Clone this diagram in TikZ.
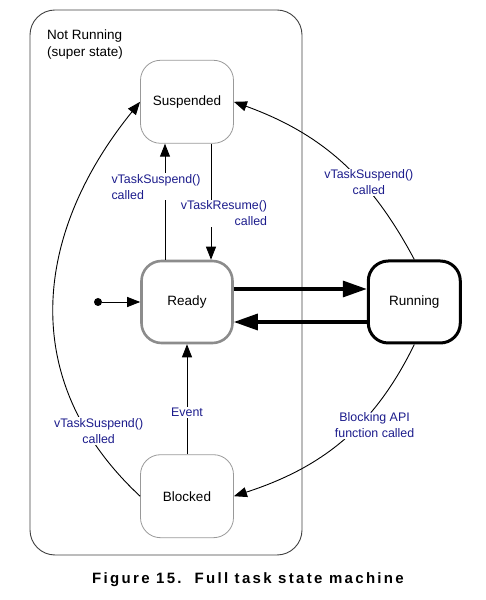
\documentclass[tikz,border=0pt]{standalone}
\usepackage{fontspec}
\setmainfont{Liberation Sans}
\usetikzlibrary{positioning,arrows.meta}
\definecolor{labelblue}{RGB}{28,28,140}
\begin{document}
\begin{tikzpicture}[x=1pt, y=1pt, node distance={117pt}, thin,
    main/.style = {draw=gray!80, line width=0.8pt, rounded corners=20pt, minimum width=93pt, minimum height=83pt, font=\fontsize{13.5}{16}\selectfont},
    lbl/.style = {fill=white, inner sep=1pt, text=labelblue, font=\fontsize{12.4}{16}\selectfont},
    tr/.style = {-{Triangle[length=13pt, width=10pt]}, line width=0.9pt},
    big/.style = {-{Triangle[length=24pt, width=16pt]}, line width=3.3pt}]
    \useasboundingbox (0,0) rectangle (486,600);
    \draw[rounded corners=25pt, line width=0.9pt, black!75] (30,45) rectangle (302,590);
    \node[align=left, anchor=north west, inner sep=0pt, font=\fontsize{13.5}{17}\selectfont] (0) at (47,570) {Not Running\\(super state)};

    \node[main, draw=gray!90, line width=2.6pt, minimum width=91pt, minimum height=82pt] (2) at (187,298) {Ready};
    \node[main] (1) [above=116pt of 2] {Suspended};
    \node[main] (4) [below=110pt of 2] {Blocked};
    \node[main, draw=black, line width=3pt, minimum width=92pt, minimum height=82pt] (3) [right=133pt of 2] {Running};
    \node[circle, fill, inner sep=0pt, minimum size=8pt] (5) at (98,298) {};

    \draw[tr] (5) -- (2);
    \draw[big] ([yshift=13pt]2.east) -- ([yshift=13pt]3.west);
    \draw[big] ([yshift=-20pt]3.west) -- ([yshift=-20pt]2.east);
    \draw[tr] ([xshift=-22pt]2.north) -- ([xshift=-22pt]1.south) node[lbl, align=left, pos=0.63, xshift=-9pt] {vTaskSuspend()\\called};
    \draw[tr] ([xshift=24pt]1.south) -- ([xshift=24pt]2.north) node[lbl, align=right, pos=0.6, xshift=13pt] {vTaskResume()\\called};
    \draw[tr] (4) -- (2) node[lbl, pos=0.38] {Event};
    \draw[tr] (3.north) to[out=118, in=-20] node[lbl, pos=0.37, align=center, xshift=7pt] {vTaskSuspend()\\called} (1.east);
    \draw[tr] (3.south) to[out=244, in=18] node[lbl, pos=0.4, align=center, xshift=16pt] {Blocking API\\function called} (4.east);
    \draw[tr] (4.west) to[out=137, in=231, looseness=1.1] node[lbl, pos=0.18, align=center, xshift=12pt] {vTaskSuspend()\\called} (1.west);

    \node[font=\bfseries\fontsize{15}{18}\selectfont\addfontfeatures{LetterSpace=15.5}] (6) at (248,20) {Figure 15.\ \ Full task state machine};
\end{tikzpicture}
\end{document}
